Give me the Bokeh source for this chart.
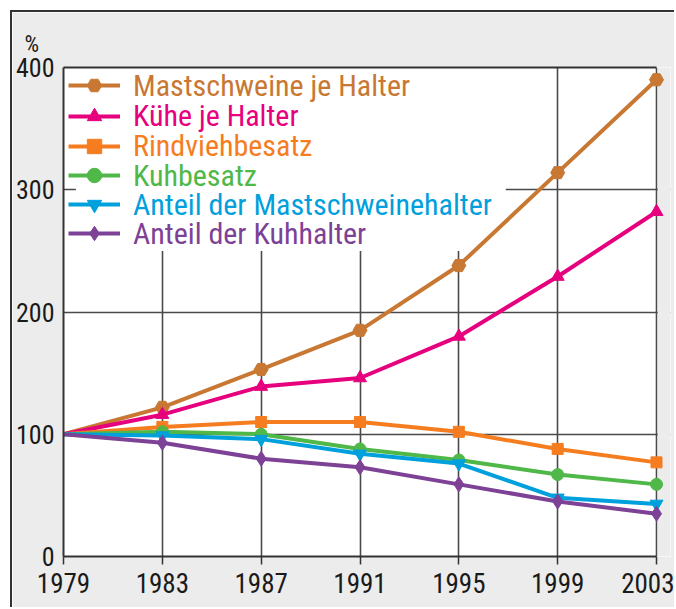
from bokeh.plotting import figure
from bokeh.models import (Range1d, FixedTicker, BoxAnnotation, Legend, LegendItem,
                          LinearAxis, ColumnDataSource)
from bokeh.embed import file_html
from bokeh.resources import INLINE

years = [1979, 1983, 1987, 1991, 1995, 1999, 2003]
mastschweine_je_halter = [100, 122, 153, 185, 238, 314, 390]
kuehe_je_halter = [100, 116, 139, 146, 180, 229, 282]
rindviehbesatz = [100, 106, 110, 110, 102, 88, 77]
kuhbesatz = [100, 102, 100, 88, 79, 67, 59]
anteil_mastschweinehalter = [100, 99, 96, 84, 76, 48, 43]
anteil_kuhhalter = [100, 93, 80, 73, 59, 45, 35]
y_ticks = [0, 100, 200, 300, 400]

series = [
    ("Mastschweine je Halter", mastschweine_je_halter, "#c87832", "hex", 14),
    ("Kühe je Halter", kuehe_je_halter, "#e6007e", "triangle", 13),
    ("Rindviehbesatz", rindviehbesatz, "#f57d20", "square", 11),
    ("Kuhbesatz", kuhbesatz, "#50b848", "circle", 12),
    ("Anteil der Mastschweinehalter", anteil_mastschweinehalter, "#00a0dc", "inverted_triangle", 13),
    ("Anteil der Kuhhalter", anteil_kuhhalter, "#7d4196", "diamond", 15),
]

FONT = "Roboto Condensed"
GRAY = "#ececec"
DARK = "#333333"

p = figure(width=664, height=597,
           x_range=Range1d(1979, 2003.566), y_range=Range1d(0, 400),
           output_backend="svg", toolbar_location=None,
           min_border_left=50, min_border_right=6, min_border_top=55, min_border_bottom=53,
           background_fill_color="white", border_fill_color=GRAY,
           outline_line_color=None)
p.styles = {"position": "absolute", "left": "10px", "top": "10px",
            "border-left": "2px solid #333", "border-top": "2px solid #333"}

p.title.text = "%"
p.title.align = "left"
p.title.vertical_align = "middle"
p.title.offset = -39
p.title.text_font = FONT
p.title.text_font_size = "23px"
p.title.text_font_style = "normal"
p.title.text_color = "#1a1a1a"
p.title.standoff = 17

p.xgrid.ticker = FixedTicker(ticks=years)
p.ygrid.ticker = FixedTicker(ticks=y_ticks)
for g in (p.xgrid, p.ygrid):
    g.grid_line_color = "#4a4a4a"
    g.grid_line_width = 1.6

xa = p.xaxis[0]
xa.ticker = FixedTicker(ticks=years)
xa.bounds = (1979, 2003)
xa.axis_line_color = DARK
xa.axis_line_width = 2
xa.major_tick_line_color = DARK
xa.major_tick_line_width = 1.5
xa.major_tick_out = 8
xa.major_tick_in = 0
xa.minor_tick_line_color = None
xa.major_label_standoff = 8
xa.major_label_text_font = FONT
xa.major_label_text_font_size = "27px"
xa.major_label_text_color = "#1a1a1a"

ya = p.yaxis[0]
ya.ticker = FixedTicker(ticks=y_ticks)
ya.axis_line_color = DARK
ya.axis_line_width = 2
ya.major_tick_line_color = None
ya.major_tick_out = 0
ya.major_tick_in = 0
ya.minor_tick_line_color = None
ya.major_label_standoff = 9
ya.major_label_text_font = FONT
ya.major_label_text_font_size = "26px"
ya.major_label_text_color = "#1a1a1a"

top_axis = LinearAxis(bounds=(1979, 2003), ticker=FixedTicker(ticks=[]),
                      axis_line_color=DARK, axis_line_width=2,
                      major_tick_line_color=None, minor_tick_line_color=None,
                      major_tick_out=9, major_tick_in=0, major_label_standoff=0,
                      major_label_text_font_size="0px")
p.add_layout(top_axis, "above")

p.add_layout(BoxAnnotation(left=2003.05, fill_color=GRAY, fill_alpha=1,
                           line_color=None, level="underlay"))
p.add_layout(BoxAnnotation(left=1979.5, right=1996.9, bottom=250, top=400,
                           fill_color="white", fill_alpha=1,
                           line_color=None, level="underlay"))

frame_bottom = 556
row_centers = [85, 115.5, 145.5, 175, 204, 233]
item_h = 36

for (name, vals, color, marker, msize), rc in zip(series, row_centers):
    line_r = p.line(years, vals, line_color=color, line_width=4)
    src = ColumnDataSource(dict(x=years[1:], y=vals[1:]))
    sc_r = p.scatter("x", "y", source=src, marker=marker, size=msize,
                     fill_color=color, line_color=color)
    leg = Legend(items=[LegendItem(label=name, renderers=[line_r, sc_r])],
                 location=(5, frame_bottom - (rc + item_h / 2)),
                 padding=0, margin=0, spacing=0,
                 glyph_width=52, glyph_height=item_h, label_height=item_h,
                 label_standoff=13,
                 label_text_font=FONT, label_text_font_size="30px",
                 label_text_color=color,
                 background_fill_alpha=0, border_line_color=None)
    p.add_layout(leg)

open("out.html", "w").write(file_html(p, INLINE))
